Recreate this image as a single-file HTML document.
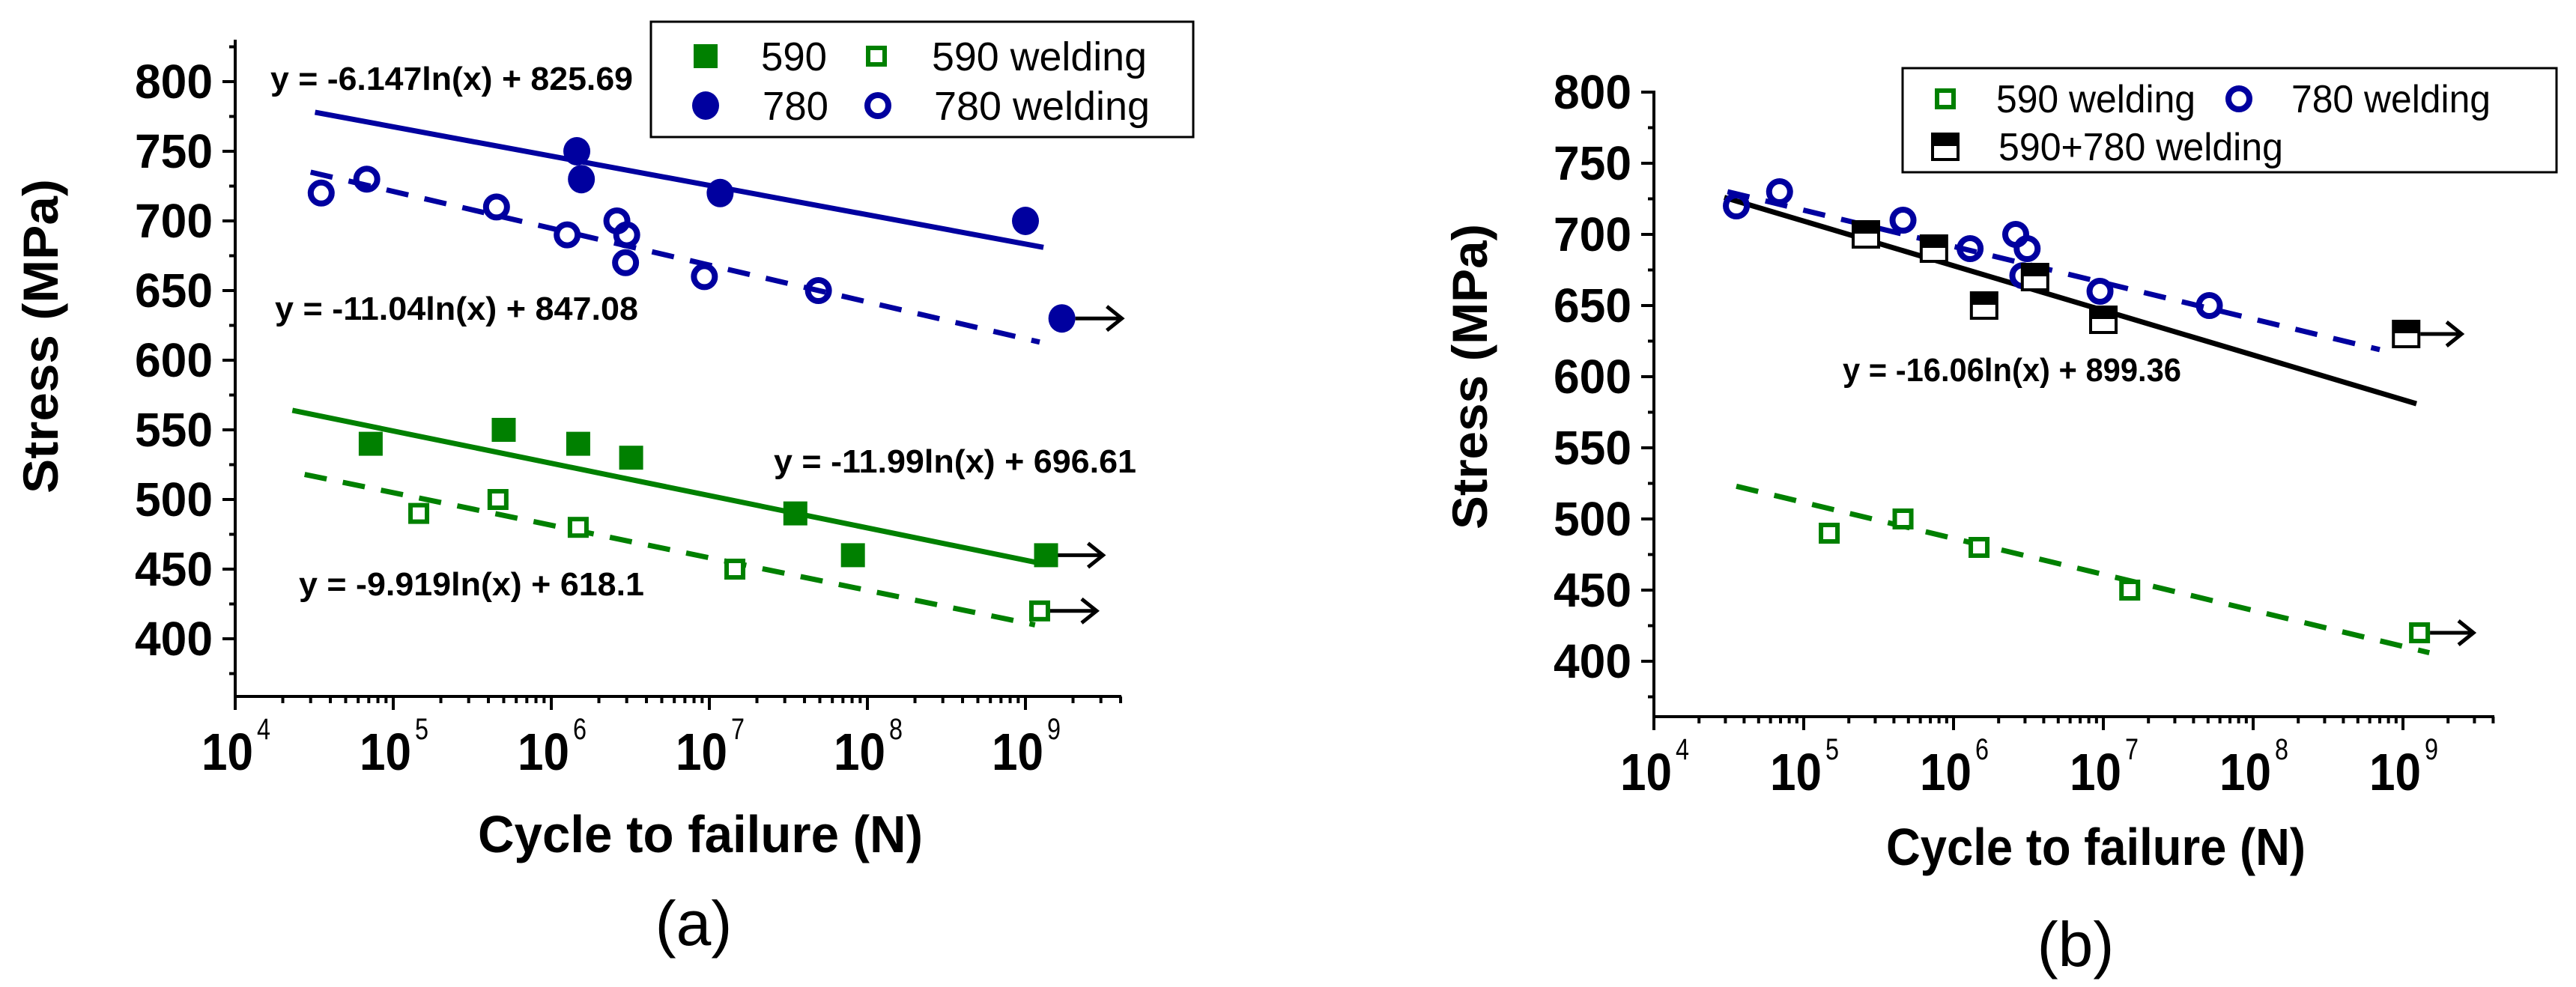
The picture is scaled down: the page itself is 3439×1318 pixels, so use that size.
<!DOCTYPE html>
<html><head><meta charset="utf-8"><style>
html,body{margin:0;padding:0;background:#fff;}
svg{display:block;}
text{font-family:"Liberation Sans",Arial,sans-serif;}
</style></head><body>
<svg id="fig" width="3439" height="1318" viewBox="0 0 3439 1318" xmlns="http://www.w3.org/2000/svg">
<rect width="3439" height="1318" fill="#fff"/>
</svg>
<script>
// ---------- data (cycles, stress MPa) ----------
const yTicks = [400, 450, 500, 550, 600, 650, 700, 750, 800];
const xDecades = [4, 5, 6, 7, 8, 9];
// panel a
const a780N = [1.45e6, 1.55e6, 1.17e7, 1e9, 1.7e9];
const a780S = [750, 730, 720, 700, 630];
const a780wN = [3.5e4, 6.8e4, 4.5e5, 1.26e6, 2.6e6, 3.0e6, 2.95e6, 9.3e6, 4.9e7];
const a780wS = [720, 730, 710, 690, 700, 690, 670, 660, 650];
const a590N = [7.2e4, 5e5, 1.48e6, 3.2e6, 3.5e7, 8.1e7, 1.35e9];
const a590S = [540, 550, 540, 530, 490, 460, 460];
const a590wN = [1.45e5, 4.6e5, 1.48e6, 1.45e7, 1.23e9];
const a590wS = [490, 500, 480, 450, 420];
const aFitBlueN = [3.2e4, 1.3e9], aFitBlueS = [778, 681];
const aFitBlueWN = [3.0e4, 1.23e9], aFitBlueWS = [735, 613];
const aFitGreenN = [2.3e4, 1.15e9], aFitGreenS = [564, 455];
const aFitGreenWN = [2.75e4, 1.15e9], aFitGreenWS = [518, 410];
// panel b
const b780wN = [3.55e4, 6.9e4, 4.6e5, 1.29e6, 2.6e6, 3.1e6, 2.9e6, 9.5e6, 5.1e7];
const b780wS = [720, 730, 710, 690, 700, 690, 671, 660, 650];
const b590wN = [1.48e5, 4.6e5, 1.48e6, 1.5e7, 1.29e9];
const b590wS = [490, 500, 480, 450, 420];
const bMixN = [2.6e5, 7.4e5, 1.6e6, 3.5e6, 1e7, 1.05e9];
const bMixS = [700, 690, 650, 670, 640, 630];
const bFitBlueN = [3.1e4, 7e8], bFitBlueS = [730, 619];
const bFitBlackN = [2.95e4, 1.23e9], bFitBlackS = [726, 581];
const bFitGreenN = [3.55e4, 1.5e9], bFitGreenS = [523, 406];

const BLUE = '#00009f', GREEN = '#008000';
const NS = 'http://www.w3.org/2000/svg';
const svg = document.getElementById('fig');
function mk(tag, attrs, parent) {
  const e = document.createElementNS(NS, tag);
  for (const k in attrs) e.setAttribute(k, attrs[k]);
  (parent || svg).appendChild(e);
  return e;
}
function txt(s, attrs, parent) { const t = mk('text', attrs, parent); t.textContent = s; return t; }

// axis functions
function mkPanel(x0, dec, y800, ppm) {
  return { x: n => x0 + (Math.log10(n) - 4) * dec, xl: l => x0 + (l - 4) * dec, y: v => y800 + (800 - v) * ppm };
}
const PA = mkPanel(314, 211, 109, 1.86);
const PB = mkPanel(2208, 200, 123, 1.9);

function drawAxes(P, g, yTop, yBot, xEnd, name) {
  const ax = P.xl(4);
  let e = mk('line', {x1: ax, y1: yTop, x2: ax, y2: yBot + 1.5, stroke: '#000', 'stroke-width': 4}, g);
   
  e = mk('line', {x1: ax - 2, y1: yBot, x2: xEnd, y2: yBot, stroke: '#000', 'stroke-width': 4}, g);
   
  // y ticks
  for (let v = 375; v <= 825; v += 25) {
    const yy = P.y(v);
    if (yy < yTop || yy > yBot) continue;
    const major = v % 50 === 0;
    mk('line', {x1: ax - (major ? 17 : 8), y1: yy, x2: ax, y2: yy, stroke: '#000', 'stroke-width': 4}, g);
  }
  yTicks.forEach(v => {
    const t = txt(String(v), {x: ax - 30, y: P.y(v) + 22, 'text-anchor': 'end', 'font-size': 64, 'font-weight': 'bold', textLength: 104, lengthAdjust: 'spacingAndGlyphs'}, g);
     
  });
  // x ticks
  for (let d = 4; d <= 9; d++) {
    mk('line', {x1: P.xl(d), y1: yBot, x2: P.xl(d), y2: yBot + 18, stroke: '#000', 'stroke-width': 4}, g);
    for (let m = 2; m <= 9; m++) {
      const xx = P.x(m * Math.pow(10, d));
      if (xx > xEnd + 1) break;
      mk('line', {x1: xx, y1: yBot, x2: xx, y2: yBot + 9, stroke: '#000', 'stroke-width': 4}, g);
    }
  }
  xDecades.forEach(d => {
    const xx = P.xl(d);
    const t = txt('10', {x: xx - 45, y: yBot + 98, 'font-size': 70, 'font-weight': 'bold', textLength: 69, lengthAdjust: 'spacingAndGlyphs'}, g);
     
    const s = txt(String(d), {x: xx + 29, y: yBot + 57, 'font-size': 40, textLength: 18, lengthAdjust: 'spacingAndGlyphs'}, g);
     
  });
}

function line(P, N, S, color, dashed, g, name) {
  const e = mk('line', {x1: P.x(N[0]), y1: P.y(S[0]), x2: P.x(N[1]), y2: P.y(S[1]), stroke: color, 'stroke-width': 7}, g);
  if (dashed) e.setAttribute('stroke-dasharray', '30 22');
   
}
function marker(kind, cx, cy, color, g) {
  let e;
  if (kind === 'fsq') e = mk('rect', {x: cx - 16, y: cy - 16, width: 32, height: 32, fill: color}, g);
  else if (kind === 'osq') e = mk('rect', {x: cx - 11, y: cy - 11, width: 22, height: 22, fill: '#fff', stroke: color, 'stroke-width': 6}, g);
  else if (kind === 'fci') e = mk('ellipse', {cx: cx, cy: cy, rx: 18, ry: 19, fill: color}, g);
  else if (kind === 'oci') e = mk('ellipse', {cx: cx, cy: cy, rx: 14, ry: 14, fill: 'none', stroke: color, 'stroke-width': 8}, g);
  else if (kind === 'half') {
    e = mk('g', {}, g);
    mk('rect', {x: cx - 17, y: cy - 17, width: 34, height: 34, fill: '#fff', stroke: '#000', 'stroke-width': 4}, e);
    mk('rect', {x: cx - 17, y: cy - 17, width: 34, height: 16, fill: '#000'}, e);
  }
  return e;
}
function points(P, N, S, kind, color, g, name) {
  N.forEach((n, i) => {
    const e = marker(kind, P.x(n), P.y(S[i]), color, g);
     
  });
}
function arrow(x, y, len, g) {
  const e = mk('g', {}, g);
   
  mk('line', {x1: x, y1: y, x2: x + len, y2: y, stroke: '#000', 'stroke-width': 5}, e);
  mk('polyline', {points: `${x + len - 20},${y - 16} ${x + len},${y} ${x + len - 20},${y + 16}`, fill: 'none', stroke: '#000', 'stroke-width': 5}, e);
}

// ---------- panel a ----------
const ga = mk('g', {});
 
drawAxes(PA, ga, 53, 930, 1497, 'panel-a');
line(PA, aFitBlueN, aFitBlueS, BLUE, false, ga, 'fit-780');
line(PA, aFitBlueWN, aFitBlueWS, BLUE, true, ga, 'fit-780-welding');
line(PA, aFitGreenN, aFitGreenS, GREEN, false, ga, 'fit-590');
line(PA, aFitGreenWN, aFitGreenWS, GREEN, true, ga, 'fit-590-welding');
points(PA, a780N, a780S, 'fci', BLUE, ga, 'point-780');
points(PA, a780wN, a780wS, 'oci', BLUE, ga, 'point-780-welding');
points(PA, a590N, a590S, 'fsq', GREEN, ga, 'point-590');
points(PA, a590wN, a590wS, 'osq', GREEN, ga, 'point-590-welding');
arrow(PA.x(a780N[4]) + 18, PA.y(a780S[4]), 62, ga);
arrow(PA.x(a590N[6]) + 16, PA.y(a590S[6]), 60, ga);
arrow(PA.x(a590wN[4]) + 14, PA.y(a590wS[4]), 62, ga);
[['y = -6.147ln(x) + 825.69', 361, 120, 484], ['y = -11.04ln(x) + 847.08', 367, 427, 485],
 ['y = -11.99ln(x) + 696.61', 1033, 631, 484], ['y = -9.919ln(x) + 618.1', 399, 795, 461]].forEach(q => {
  const t = txt(q[0], {x: q[1], y: q[2], 'font-size': 44, 'font-weight': 'bold', textLength: q[3], lengthAdjust: 'spacingAndGlyphs'}, ga);
   
});
let t = txt('Stress (MPa)', {x: 0, y: 0, transform: 'translate(77,449) rotate(-90)', 'text-anchor': 'middle', 'font-size': 66, 'font-weight': 'bold', textLength: 420, lengthAdjust: 'spacingAndGlyphs'}, ga);
 
t = txt('Cycle to failure (N)', {x: 638, y: 1138, 'font-size': 70, 'font-weight': 'bold', textLength: 594, lengthAdjust: 'spacingAndGlyphs'}, ga);
 
t = txt('(a)', {x: 926, y: 1262, 'text-anchor': 'middle', 'font-size': 84, 'font-family': '"Liberation Serif",serif'}, ga);
 
// legend a
const la = mk('g', {}, ga);
 
mk('rect', {x: 869, y: 29, width: 724, height: 154, fill: '#fff', stroke: '#000', 'stroke-width': 3}, la);
[['fsq', GREEN, 942, 75, '590', 1016, 88], ['osq', GREEN, 1170, 75, '590 welding', 1244, 287],
 ['fci', BLUE, 942, 141, '780', 1018, 88], ['oci', BLUE, 1172, 141, '780 welding', 1247, 288]].forEach(r => {
  const m = marker(r[0], r[2], r[3], r[1], la);
   
  const tt = txt(r[4], {x: r[5], y: r[3] + 19, 'font-size': 54, textLength: r[6], lengthAdjust: 'spacingAndGlyphs'}, la);
   
});

// ---------- panel b ----------
const gb = mk('g', {});
 
drawAxes(PB, gb, 121, 957, 3330, 'panel-b');
line(PB, bFitBlueN, bFitBlueS, BLUE, true, gb, 'fit-780-welding');
line(PB, bFitBlackN, bFitBlackS, '#000', false, gb, 'fit-590-780-welding');
line(PB, bFitGreenN, bFitGreenS, GREEN, true, gb, 'fit-590-welding');
points(PB, b780wN, b780wS, 'oci', BLUE, gb, 'point-780-welding');
points(PB, b590wN, b590wS, 'osq', GREEN, gb, 'point-590-welding');
points(PB, bMixN, bMixS, 'half', '#000', gb, 'point-590-780-welding');
arrow(PB.x(bMixN[5]) + 19, PB.y(bMixS[5]), 55, gb);
arrow(PB.x(b590wN[4]) + 14, PB.y(b590wS[4]), 58, gb);
t = txt('y = -16.06ln(x) + 899.36', {x: 2460, y: 509, 'font-size': 44, 'font-weight': 'bold', textLength: 452, lengthAdjust: 'spacingAndGlyphs'}, gb);
 
t = txt('Stress (MPa)', {x: 0, y: 0, transform: 'translate(1985,503) rotate(-90)', 'text-anchor': 'middle', 'font-size': 66, 'font-weight': 'bold', textLength: 408, lengthAdjust: 'spacingAndGlyphs'}, gb);
 
t = txt('Cycle to failure (N)', {x: 2518, y: 1155, 'font-size': 70, 'font-weight': 'bold', textLength: 560, lengthAdjust: 'spacingAndGlyphs'}, gb);
 
t = txt('(b)', {x: 2771, y: 1290, 'text-anchor': 'middle', 'font-size': 84, 'font-family': '"Liberation Serif",serif'}, gb);
 
const lb = mk('g', {}, gb);
 
mk('rect', {x: 2540, y: 91, width: 873, height: 139, fill: '#fff', stroke: '#000', 'stroke-width': 3}, lb);
[['osq', GREEN, 2597, 132, '590 welding', 2665, 266], ['oci', BLUE, 2989, 132, '780 welding', 3059, 266],
 ['half', '#000', 2597, 196, '590+780 welding', 2668, 380]].forEach(r => {
  const m = marker(r[0], r[2], r[3], r[1], lb);
   
  const tt = txt(r[4], {x: r[5], y: r[3] + 18, 'font-size': 52, textLength: r[6], lengthAdjust: 'spacingAndGlyphs'}, lb);
   
});
</script>
</body></html>
